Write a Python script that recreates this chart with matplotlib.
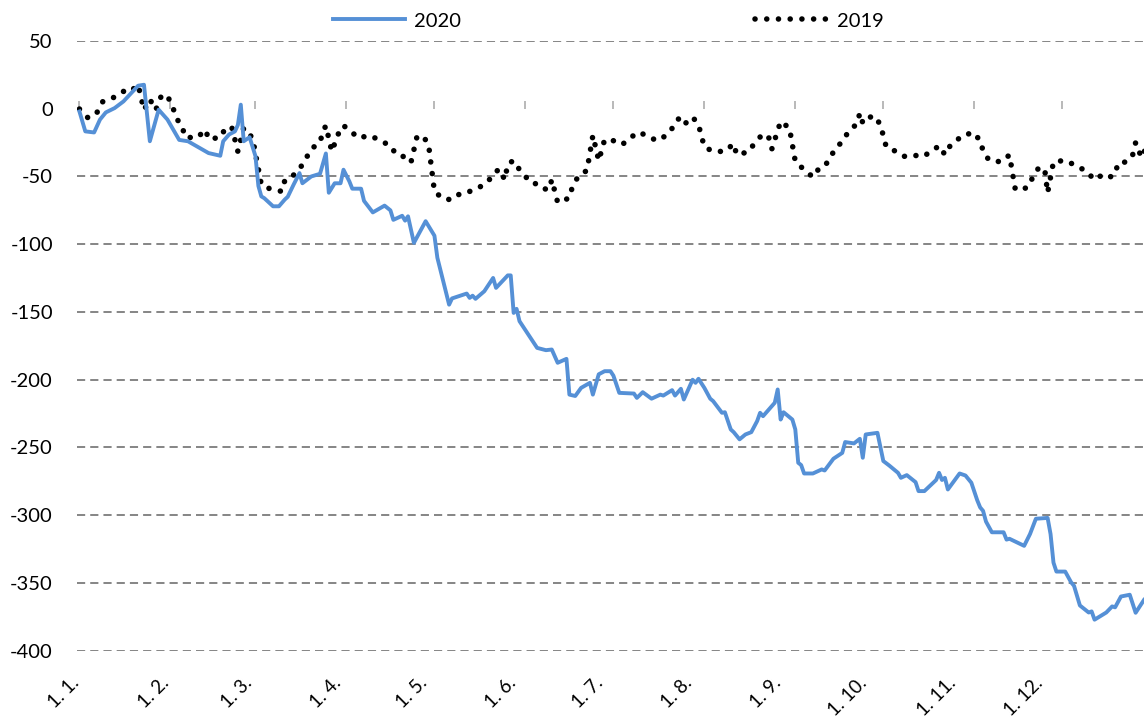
import numpy as np
import pandas as pd
import matplotlib
matplotlib.use("Agg")
import matplotlib.pyplot as plt

# ---- data (day offset from 1 Jan 2020, value) ----
days_2020 = [0, 2, 5, 7, 9, 12, 15, 17, 20, 22, 24, 27, 30, 34, 37, 43, 44, 48, 49, 51,
             53, 54, 55, 56, 58, 60, 61, 62, 63, 64, 66, 68, 70, 71, 73, 75, 76, 79, 82, 84,
             85, 87, 89, 90, 92, 93, 96, 97, 100, 104, 106, 107, 110, 111, 112, 114, 118, 121, 122, 126,
             127, 132, 133, 134, 135, 138, 141, 142, 146, 147, 148, 149, 150, 153, 156, 159, 161, 163, 166, 167,
             169, 171, 174, 175, 177, 179, 181, 182, 184, 189, 190, 192, 195, 198, 199, 202, 203, 205, 206, 209,
             210, 211, 213, 215, 216, 219, 220, 222, 223, 225, 227, 229, 231, 232, 233, 237, 238, 239, 240, 243,
             244, 245, 246, 247, 250, 253, 254, 257, 260, 261, 264, 266, 267, 268, 272, 274, 276, 279, 280, 282,
             285, 286, 288, 292, 293, 294, 295, 296, 300, 302, 304, 306, 307, 308, 309, 311, 315, 316, 317, 322,
             324, 326, 330, 331, 332, 333, 336, 338, 339, 341, 344, 345, 346, 350, 352, 353, 355, 358, 360, 363, 365]
vals_2020 = [-2, -16.7, -17.5, -8, -2.7, 0.5, 5.4, 10, 17, 17.7, -24, -0.7, -8, -23, -24, -31.5, -32.7, -34.7, -24, -19,
             -16.7, -12, 3, -24, -21, -35, -57, -64.7, -66, -68, -72, -72, -67, -65, -56, -47.5, -55, -50, -48, -33,
             -62, -55, -55, -45, -53.6, -59, -59, -68, -76.5, -71.5, -75, -82, -79, -82.6, -79.4, -99, -83, -93.7, -110, -144.6,
             -140, -136.4, -139.6, -138, -140.3, -134.7, -124.9, -132.2, -123, -123, -150.7, -147.7, -156.8, -166.7, -176.5, -178.2, -177.7, -187.5, -184.6, -211,
             -212, -206, -202.3, -211, -196, -193.7, -193.7, -197, -209.7, -210.2, -213.4, -209.2, -214, -211, -211.7, -207.7, -211.7, -206.7, -214.6, -200,
             -202.3, -199.3, -206, -214, -215.8, -224.4, -224, -236.7, -238.7, -244, -240.4, -238.7, -230.5, -224.4, -226.9, -217, -207.2, -229.4, -224, -229.4,
             -236.7, -261.3, -263, -269.2, -269.2, -266.2, -267, -258.3, -254, -246, -247, -243.6, -257.6, -240.4, -239.2, -260, -263.3, -268.7, -272.4, -270.4,
             -275.6, -282.2, -282.2, -274, -268.7, -274, -272.4, -281, -269.2, -270.7, -276, -288.9, -294.2, -296.8, -304.7, -312.6, -312.6, -318, -317.4, -322.6,
             -313.9, -302.6, -302, -313.9, -335, -341.6, -341.6, -349.5, -352.1, -366.6, -371.8, -371, -377.1, -371.8, -367.3, -368, -360, -358.7, -372, -362, -359]

days_2019 = [0, 3, 6, 8, 12, 15, 17, 20, 22, 24, 26, 28, 30, 32, 33, 35, 36, 40, 43, 44,
             48, 50, 52, 54, 56, 59, 62, 65, 69, 70, 72, 75, 77, 79, 82, 83, 84, 86, 89, 90,
             92, 95, 99, 102, 106, 108, 111, 113, 115, 117, 119, 121, 124, 127, 130, 132, 135, 139, 141, 143,
             145, 146, 148, 150, 153, 154, 157, 160, 161, 163, 167, 168, 170, 173, 175, 177, 179, 182, 185, 188,
             191, 193, 197, 200, 202, 204, 205, 206, 209, 211, 213, 216, 220, 223, 224, 228, 230, 233, 235, 236,
             239, 242, 244, 247, 250, 252, 254, 256, 258, 260, 262, 265, 266, 267, 268, 271, 273, 275, 279, 281,
             284, 287, 290, 293, 295, 297, 300, 301, 304, 307, 308, 310, 314, 317, 319, 323, 325, 327, 329, 330,
             332, 336, 339, 343, 346, 348, 350, 353, 354, 357, 359, 360, 362, 364]
vals_2019 = [-0.2, -6.9, -2.7, 5.4, 8.6, 12.8, 12, 17.7, -1, 7, -1, 10, 9.6, 0, -6.9, -13, -20.9, -21.6, -15.5, -22.4,
             -21.2, -13.5, -14.2, -31.5, -14.2, -21.6, -56, -59.2, -61, -52.9, -51.1, -44.5, -37.6, -29.7, -24.8, -16.7, -12.5, -31.5, -14.2, -12.5,
             -15.5, -21.6, -19.7, -22.9, -27.3, -33.9, -35.6, -39.6, -21, -19.7, -26.5, -61, -66.6, -67.1, -62.2, -61.7, -59.7, -54.4, -48.7, -44.5,
             -52.4, -40.6, -38.3, -45, -52.4, -52.4, -58.5, -59.7, -52.4, -69.1, -65.9, -57.7, -49.9, -45.5, -19.7, -38.3, -22.9, -23.6, -26.5, -20.9,
             -17.2, -19.9, -23.6, -19.7, -14.5, -7.6, -7.6, -11.8, -6.1, -11.8, -28.2, -31.5, -31.5, -25.8, -33.9, -31.9, -25.8, -18.4, -21.6, -29.7,
             -9.4, -14.2, -38.9, -45, -50.4, -44.3, -42.6, -35.6, -28.2, -24.6, -17.2, -11.1, -3.2, -10.5, -7.2, -5.2, -11.8, -28.2, -32.2, -35.2,
             -33.9, -35.6, -32.2, -27.3, -33.9, -26.5, -21.6, -21.6, -17.2, -22.9, -31.3, -37.9, -39.2, -34.2, -59.7, -58.4, -50.5, -43.4, -44.5, -62,
             -39.2, -38.1, -41.3, -45.8, -52.4, -49.7, -51.8, -48.4, -40, -39.2, -34, -25, -36, -27]

month_labels = ["1. 1.", "1. 2.", "1. 3.", "1. 4.", "1. 5.", "1. 6.",
                "1. 7.", "1. 8.", "1. 9.", "1. 10.", "1. 11.", "1. 12."]
y_ticks = [50, 0, -50, -100, -150, -200, -250, -300, -350, -400]
series_names = ["2020", "2019"]

# ---- styling ----
plt.rcParams['font.family'] = ['Lato', 'DejaVu Sans']
W, H = 1144, 717
fig = plt.figure(figsize=(W / 100, H / 100), dpi=100)
ax = fig.add_axes([76.5 / W, 1 - 650.7 / H, 1073.8 / W, (650.7 - 41) / H])

ymin, ymax = -400, 50
ax.set_ylim(ymin, ymax)
ax.set_xlim(0, 365)

for s in ax.spines.values():
    s.set_visible(False)

# gridlines
grid_color = '#858585'
for yv in y_ticks:
    if yv == 0:
        continue
    ax.axhline(yv, color=grid_color, lw=1.4, dashes=(4.2, 2.6), zorder=1)

month_pos = (pd.date_range('2020-01-01', periods=12, freq='MS').dayofyear - 1).to_numpy()
label_pos = month_pos * 0.98 - 1.0

# primary axis: labels only at bottom
ax.set_yticks(y_ticks)
ax.set_yticklabels([str(v) for v in y_ticks], fontsize=14.5)
ax.tick_params(axis='y', length=0, pad=17)
ax.set_xticks(label_pos)
ax.set_xticklabels(month_labels, fontsize=13.5, rotation=45, ha='right', va='center',
                   rotation_mode='anchor')
ax.tick_params(axis='x', length=0, pad=21)

# axis line at zero with month tick marks
zero_frac = (0 - ymin) / (ymax - ymin)
sec = ax.secondary_xaxis(zero_frac)
sec.set_xticks(month_pos)
sec.set_xticklabels([])
sec.tick_params(axis='x', direction='out', length=6, width=1.1, color='#a6a6a6')
sec.spines['bottom'].set_color('#a6a6a6')
sec.spines['bottom'].set_linewidth(1.4)
for k in ['top', 'left', 'right']:
    if k in sec.spines:
        sec.spines[k].set_visible(False)

# series
l2020, = ax.plot(days_2020, vals_2020, color='#5590d6', lw=2.8, solid_joinstyle='round',
                 zorder=4, label=series_names[0])
l2019, = ax.plot(days_2019, vals_2019, color='black', lw=4.0, dashes=(0.01, 2.1),
                 dash_capstyle='round', zorder=3, label=series_names[1])

fig.legend(handles=[l2020, l2019], loc='center', bbox_to_anchor=(608 / W, 1 - 21 / H),
           ncol=2, frameon=False, fontsize=14.5, handlelength=3.6, handletextpad=0.45,
           columnspacing=14.6)

fig.savefig('out.png', dpi=100)
